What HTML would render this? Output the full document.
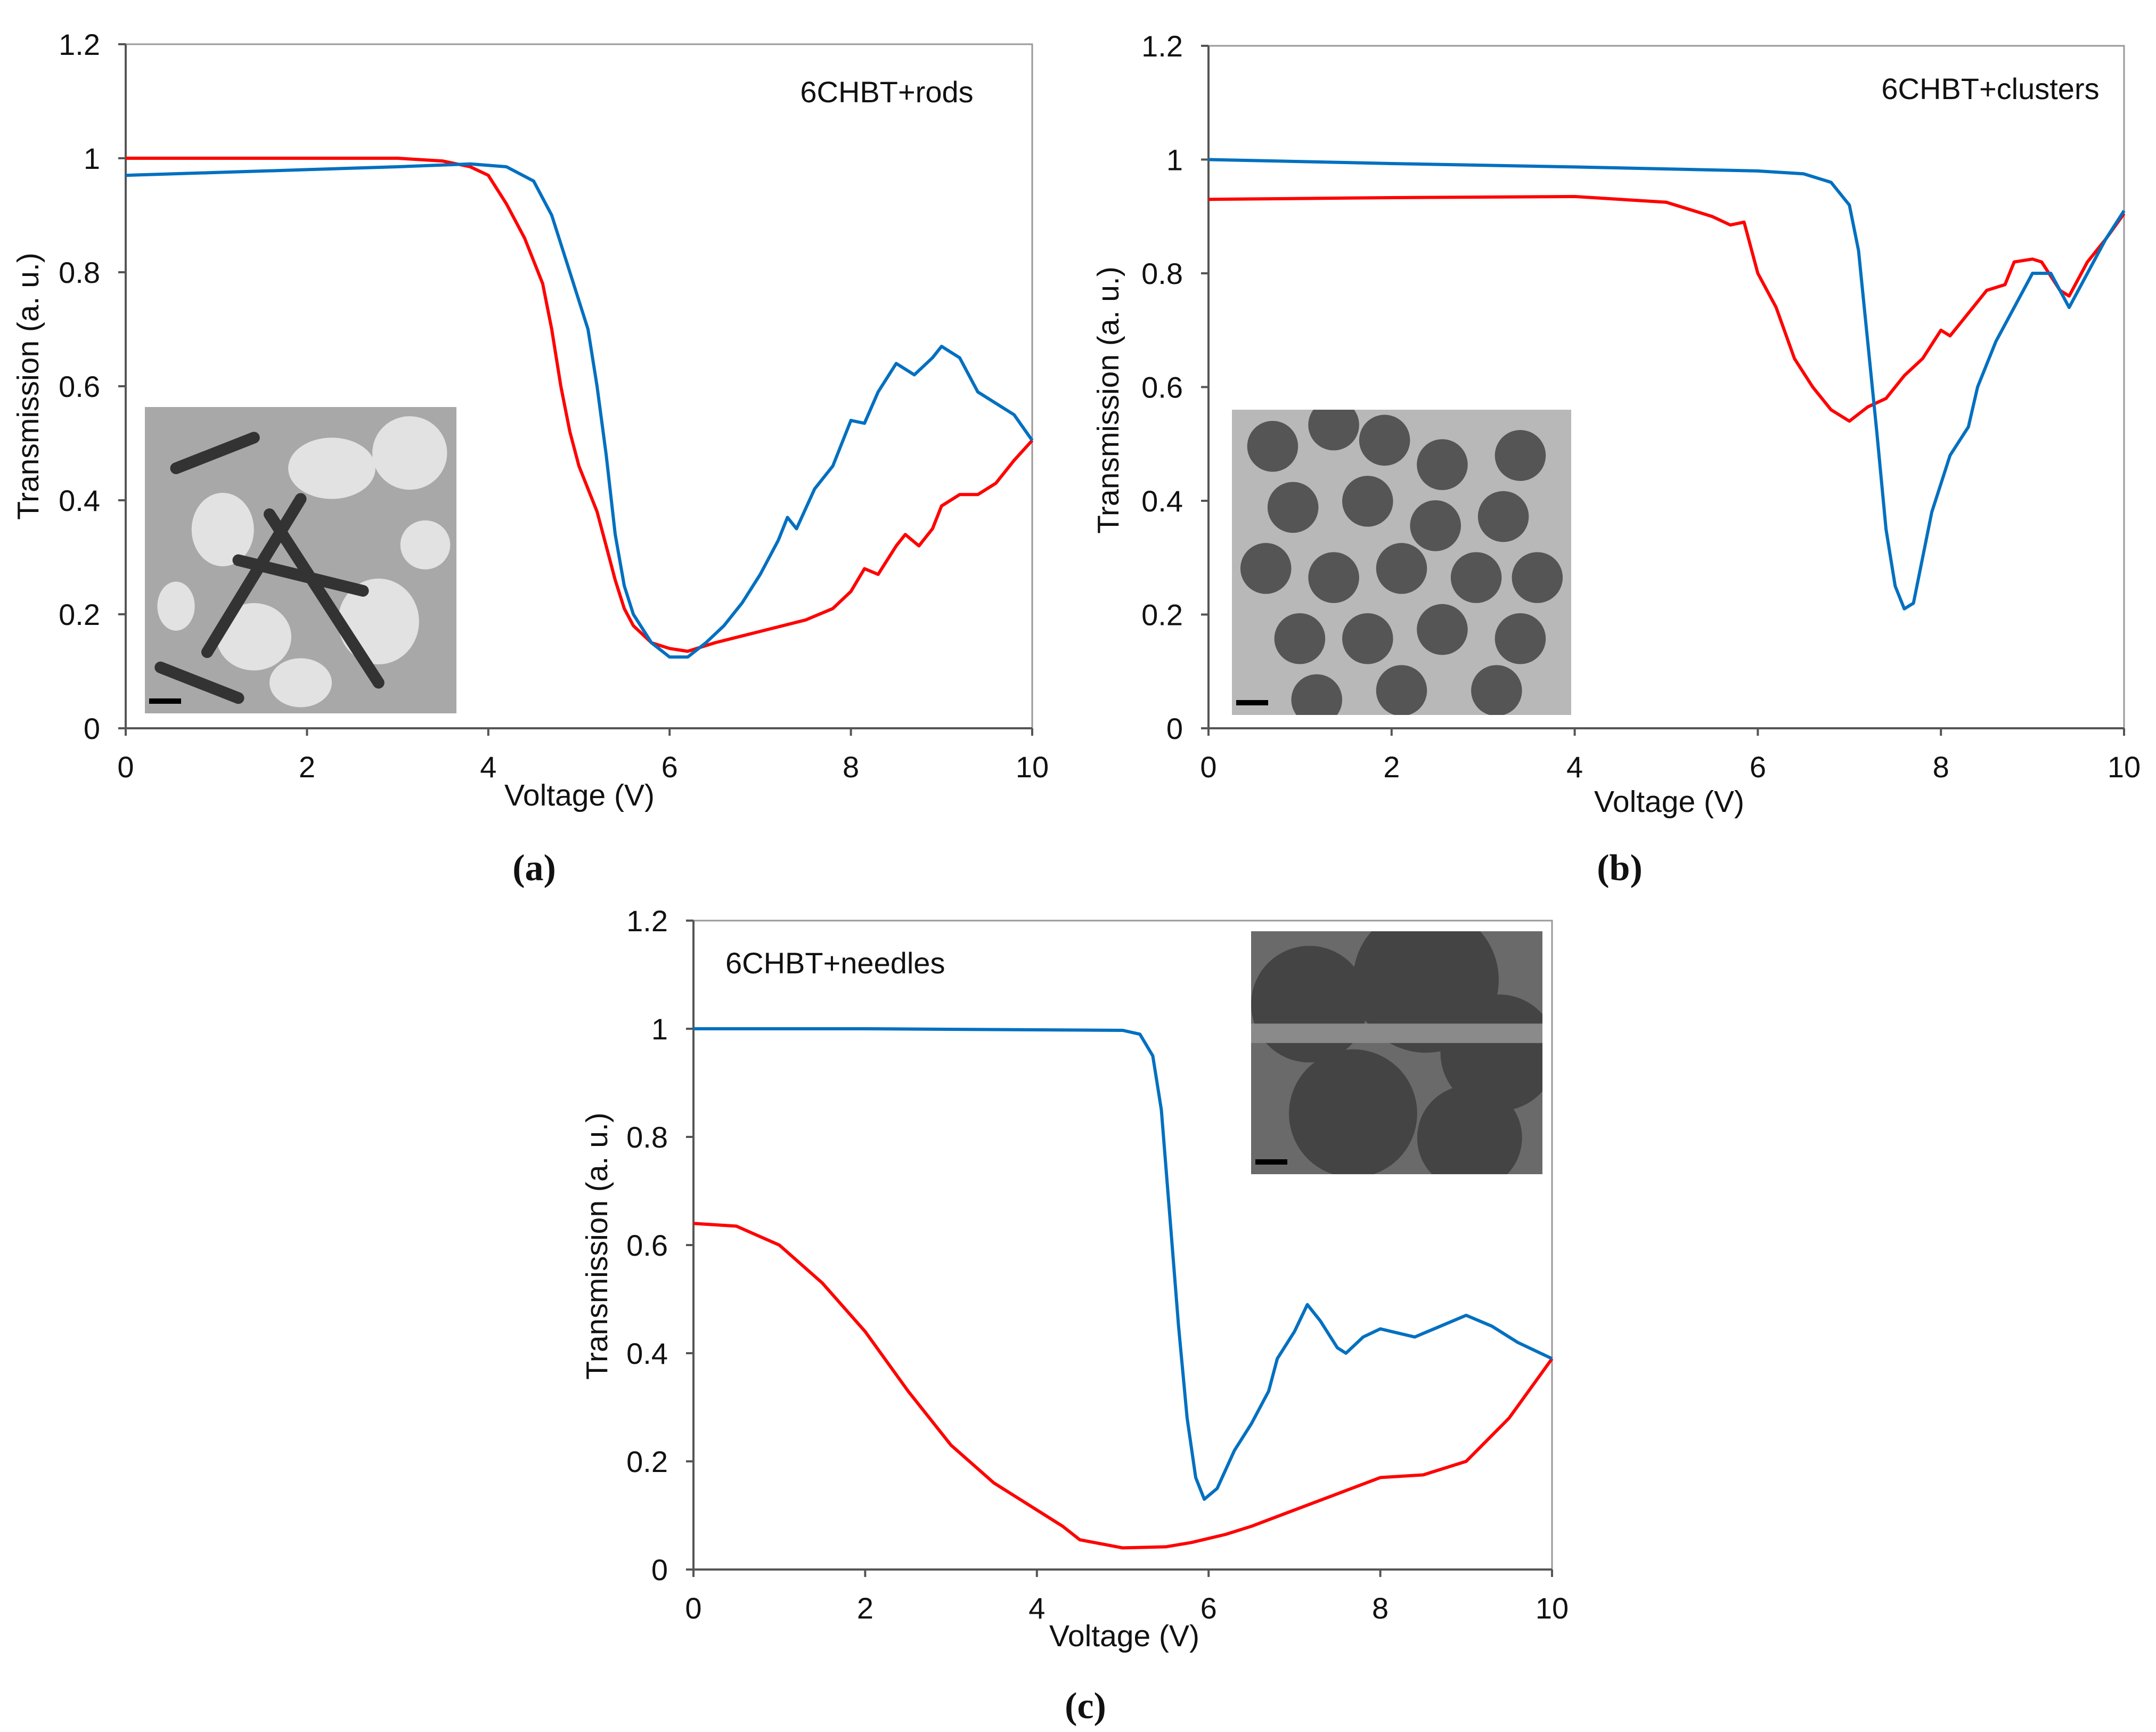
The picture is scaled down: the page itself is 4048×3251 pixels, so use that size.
<!DOCTYPE html>
<html><head><meta charset="utf-8"><style>
html,body{margin:0;padding:0;background:#fff}
svg{display:block}
text{font-family:"Liberation Sans",Arial,sans-serif;fill:#111}
text.serif{font-family:"Liberation Serif","Times New Roman",serif}
</style></head><body>
<svg id="fig" width="4048" height="3251" viewBox="0 0 4048 3251" xmlns="http://www.w3.org/2000/svg"></svg>
<script>
const xTicks=[0,2,4,6,8,10];
const yTicks=[0,0.2,0.4,0.6,0.8,1,1.2];
const yTickLabels=["0","0.2","0.4","0.6","0.8","1","1.2"];
const aRedX=[0,1,2,3,3.5,3.8,4.0,4.2,4.4,4.6,4.7,4.8,4.9,5.0,5.1,5.2,5.3,5.4,5.5,5.6,5.8,6.0,6.2,6.5,7.0,7.5,7.8,8.0,8.15,8.3,8.5,8.6,8.75,8.9,9.0,9.2,9.4,9.6,9.8,10];
const aRedY=[1.0,1.0,1.0,1.0,0.995,0.985,0.97,0.92,0.86,0.78,0.7,0.6,0.52,0.46,0.42,0.38,0.32,0.26,0.21,0.18,0.15,0.14,0.135,0.15,0.17,0.19,0.21,0.24,0.28,0.27,0.32,0.34,0.32,0.35,0.39,0.41,0.41,0.43,0.47,0.505];
const aBlueX=[0,1,2,3,3.8,4.2,4.5,4.7,4.9,5.1,5.2,5.3,5.4,5.5,5.6,5.8,6.0,6.2,6.4,6.6,6.8,7.0,7.2,7.3,7.4,7.6,7.8,8.0,8.15,8.3,8.5,8.7,8.9,9.0,9.2,9.4,9.6,9.8,10];
const aBlueY=[0.97,0.975,0.98,0.985,0.99,0.985,0.96,0.9,0.8,0.7,0.6,0.48,0.34,0.25,0.2,0.15,0.125,0.125,0.15,0.18,0.22,0.27,0.33,0.37,0.35,0.42,0.46,0.54,0.535,0.59,0.64,0.62,0.65,0.67,0.65,0.59,0.57,0.55,0.505];
const bRedX=[0,2,4,5,5.5,5.7,5.85,6.0,6.2,6.4,6.6,6.8,7.0,7.2,7.4,7.6,7.8,8.0,8.1,8.3,8.5,8.7,8.8,9.0,9.1,9.3,9.4,9.6,9.8,10];
const bRedY=[0.93,0.933,0.935,0.925,0.9,0.885,0.89,0.8,0.74,0.65,0.6,0.56,0.54,0.565,0.58,0.62,0.65,0.7,0.69,0.73,0.77,0.78,0.82,0.825,0.82,0.77,0.76,0.82,0.86,0.905];
const bBlueX=[0,2,4,6,6.5,6.8,7.0,7.1,7.2,7.3,7.4,7.5,7.6,7.7,7.8,7.9,8.0,8.1,8.3,8.4,8.6,8.8,9.0,9.2,9.4,9.6,9.8,10];
const bBlueY=[1.0,0.993,0.987,0.98,0.975,0.96,0.92,0.84,0.68,0.52,0.35,0.25,0.21,0.22,0.3,0.38,0.43,0.48,0.53,0.6,0.68,0.74,0.8,0.8,0.74,0.8,0.86,0.91];
const cBlueX=[0,2,4,5,5.2,5.35,5.45,5.55,5.65,5.75,5.85,5.95,6.1,6.3,6.5,6.7,6.8,7.0,7.15,7.3,7.5,7.6,7.8,8.0,8.4,8.7,9.0,9.3,9.6,10];
const cBlueY=[1.0,1.0,0.998,0.997,0.99,0.95,0.85,0.65,0.45,0.28,0.17,0.13,0.15,0.22,0.27,0.33,0.39,0.44,0.49,0.46,0.41,0.4,0.43,0.445,0.43,0.45,0.47,0.45,0.42,0.39];
const cRedX=[0,0.5,1,1.5,2,2.5,3,3.5,4,4.3,4.5,5,5.5,5.8,6.2,6.5,7,7.5,8,8.5,9,9.5,10];
const cRedY=[0.64,0.635,0.6,0.53,0.44,0.33,0.23,0.16,0.11,0.08,0.055,0.04,0.042,0.05,0.065,0.08,0.11,0.14,0.17,0.175,0.2,0.28,0.39];

const NS="http://www.w3.org/2000/svg";
const svg=document.getElementById('fig');
function mk(tag,attrs,parent){const e=document.createElementNS(NS,tag);for(const k in attrs)e.setAttribute(k,attrs[k]);(parent||svg).appendChild(e);return e;}

const panels=[
 {id:'a',x0:236,x1:1938,y0:1367,y1:83,title:'6CHBT+rods',tx:1665,ty:192,anchor:'middle',
  xt:1088,xty:1512,ytx:72,yty:725,lab:'(a)',lx:1003,ly:1652,inset:[272,764,585,575],
  series:[[aRedX,aRedY,'#ff0000','red-curve'],[aBlueX,aBlueY,'#0070c0','blue-curve']]},
 {id:'b',x0:2269,x1:3988,y0:1367,y1:86,title:'6CHBT+clusters',tx:3737,ty:186,anchor:'middle',
  xt:3134,xty:1524,ytx:2100,yty:751,lab:'(b)',lx:3041,ly:1652,inset:[2313,769,637,573],
  series:[[bRedX,bRedY,'#ff0000','red-curve'],[bBlueX,bBlueY,'#0070c0','blue-curve']]},
 {id:'c',x0:1302,x1:2914,y0:2946,y1:1728,title:'6CHBT+needles',tx:1362,ty:1827,anchor:'start',
  xt:2111,xty:3090,ytx:1140,yty:2339,lab:'(c)',lx:2038,ly:3225,inset:[2349,1748,547,456],
  series:[[cRedX,cRedY,'#ff0000','red-curve'],[cBlueX,cBlueY,'#0070c0','blue-curve']]}
];

panels.forEach(p=>{
 const g=mk('g',{});
 
 
 const sx=v=>p.x0+(p.x1-p.x0)*v/10;
 const sy=v=>p.y0+(p.y1-p.y0)*v/1.2;
 const frame=mk('rect',{x:p.x0,y:p.y1,width:p.x1-p.x0,height:p.y0-p.y1,fill:'none',stroke:'#999','stroke-width':3},g);
 
 
 const xa=mk('line',{x1:p.x0,y1:p.y0,x2:p.x1,y2:p.y0,stroke:'#555','stroke-width':4},g);
 
 
 const ya=mk('line',{x1:p.x0,y1:p.y0,x2:p.x0,y2:p.y1,stroke:'#555','stroke-width':4},g);
 
 
 xTicks.forEach(t=>{
  mk('line',{x1:sx(t),y1:p.y0,x2:sx(t),y2:p.y0+14,stroke:'#555','stroke-width':4},g);
  const tl=mk('text',{x:sx(t),y:p.y0+92,'font-size':56,'text-anchor':'middle'},g);
  tl.textContent=t;
  
  
 });
 yTicks.forEach((t,i)=>{
  mk('line',{x1:p.x0-14,y1:sy(t),x2:p.x0,y2:sy(t),stroke:'#555','stroke-width':4},g);
  const tl=mk('text',{x:p.x0-48,y:sy(t)+20,'font-size':56,'text-anchor':'end'},g);
  tl.textContent=yTickLabels[i];
  
  
 });
 const xt=mk('text',{x:p.xt,y:p.xty,'font-size':57,'text-anchor':'middle'},g);
 xt.textContent='Voltage (V)';
 
 
 const yt=mk('text',{x:p.ytx,y:p.yty,'font-size':57,'text-anchor':'middle',transform:`rotate(-90 ${p.ytx} ${p.yty})`},g);
 yt.textContent='Transmission (a. u.)';
 
 
 const tt=mk('text',{x:p.tx,y:p.ty,'font-size':56,'text-anchor':p.anchor},g);
 tt.textContent=p.title;
 
 
 const lb=mk('text',{x:p.lx,y:p.ly,'font-size':70,'font-weight':'bold','text-anchor':'middle','class':'serif'},g);
 lb.textContent=p.lab;
 
 
 const [ix,iy,iw,ih]=p.inset;
 const ig=mk('g',{},g);
 
 
 const cid='clip'+p.id;
 const cp=mk('clipPath',{id:cid},ig);
 mk('rect',{x:ix,y:iy,width:iw,height:ih},cp);
 mk('rect',{x:ix,y:iy,width:iw,height:ih,fill:p.id==='a'?'#a8a8a8':(p.id==='b'?'#b8b8b8':'#6a6a6a')},ig);
 const cg=mk('g',{'clip-path':`url(#${cid})`},ig);
 if(p.id==='a'){
  [[0.25,0.4,0.1,0.12],[0.6,0.2,0.14,0.1],[0.85,0.15,0.12,0.12],[0.75,0.7,0.13,0.14],[0.35,0.75,0.12,0.11],[0.5,0.9,0.1,0.08],[0.1,0.65,0.06,0.08],[0.9,0.45,0.08,0.08]].forEach(e=>
   mk('ellipse',{cx:ix+iw*e[0],cy:iy+ih*e[1],rx:iw*e[2],ry:ih*e[3],fill:'#e2e2e2'},cg));
  [[0.2,0.8,0.5,0.3],[0.3,0.5,0.7,0.6],[0.1,0.2,0.35,0.1],[0.4,0.35,0.75,0.9],[0.05,0.85,0.3,0.95]].forEach(l=>
   mk('line',{x1:ix+iw*l[0],y1:iy+ih*l[1],x2:ix+iw*l[2],y2:iy+ih*l[3],stroke:'#333','stroke-width':22,'stroke-linecap':'round'},cg));
 } else if(p.id==='b'){
  [[0.12,0.12],[0.3,0.05],[0.45,0.1],[0.62,0.18],[0.85,0.15],[0.18,0.32],[0.4,0.3],[0.6,0.38],[0.8,0.35],[0.1,0.52],[0.3,0.55],[0.5,0.52],[0.72,0.55],[0.9,0.55],[0.2,0.75],[0.4,0.75],[0.62,0.72],[0.85,0.75],[0.25,0.95],[0.5,0.92],[0.78,0.92]].forEach(e=>
   mk('circle',{cx:ix+iw*e[0],cy:iy+ih*e[1],r:iw*0.075,fill:'#555'},cg));
 } else {
  [[0.2,0.3,0.2],[0.6,0.2,0.25],[0.85,0.5,0.2],[0.35,0.75,0.22],[0.75,0.85,0.18]].forEach(e=>
   mk('circle',{cx:ix+iw*e[0],cy:iy+ih*e[1],r:iw*e[2],fill:'#444'},cg));
  mk('rect',{x:ix,y:iy+ih*0.38,width:iw,height:ih*0.08,fill:'#8a8a8a'},cg);
 }
 mk('rect',{x:ix+8,y:iy+ih-28,width:60,height:10,fill:'#000'},ig);
 p.series.forEach(s=>{
  const [xs,ys,col,name]=s;
  const d=xs.map((v,i)=>(i?'L':'M')+sx(v).toFixed(1)+','+sy(ys[i]).toFixed(1)).join(' ');
  const path=mk('path',{d:d,fill:'none',stroke:col,'stroke-width':6,'stroke-linejoin':'round'},g);
  
  
 });
});
</script>
</body></html>
